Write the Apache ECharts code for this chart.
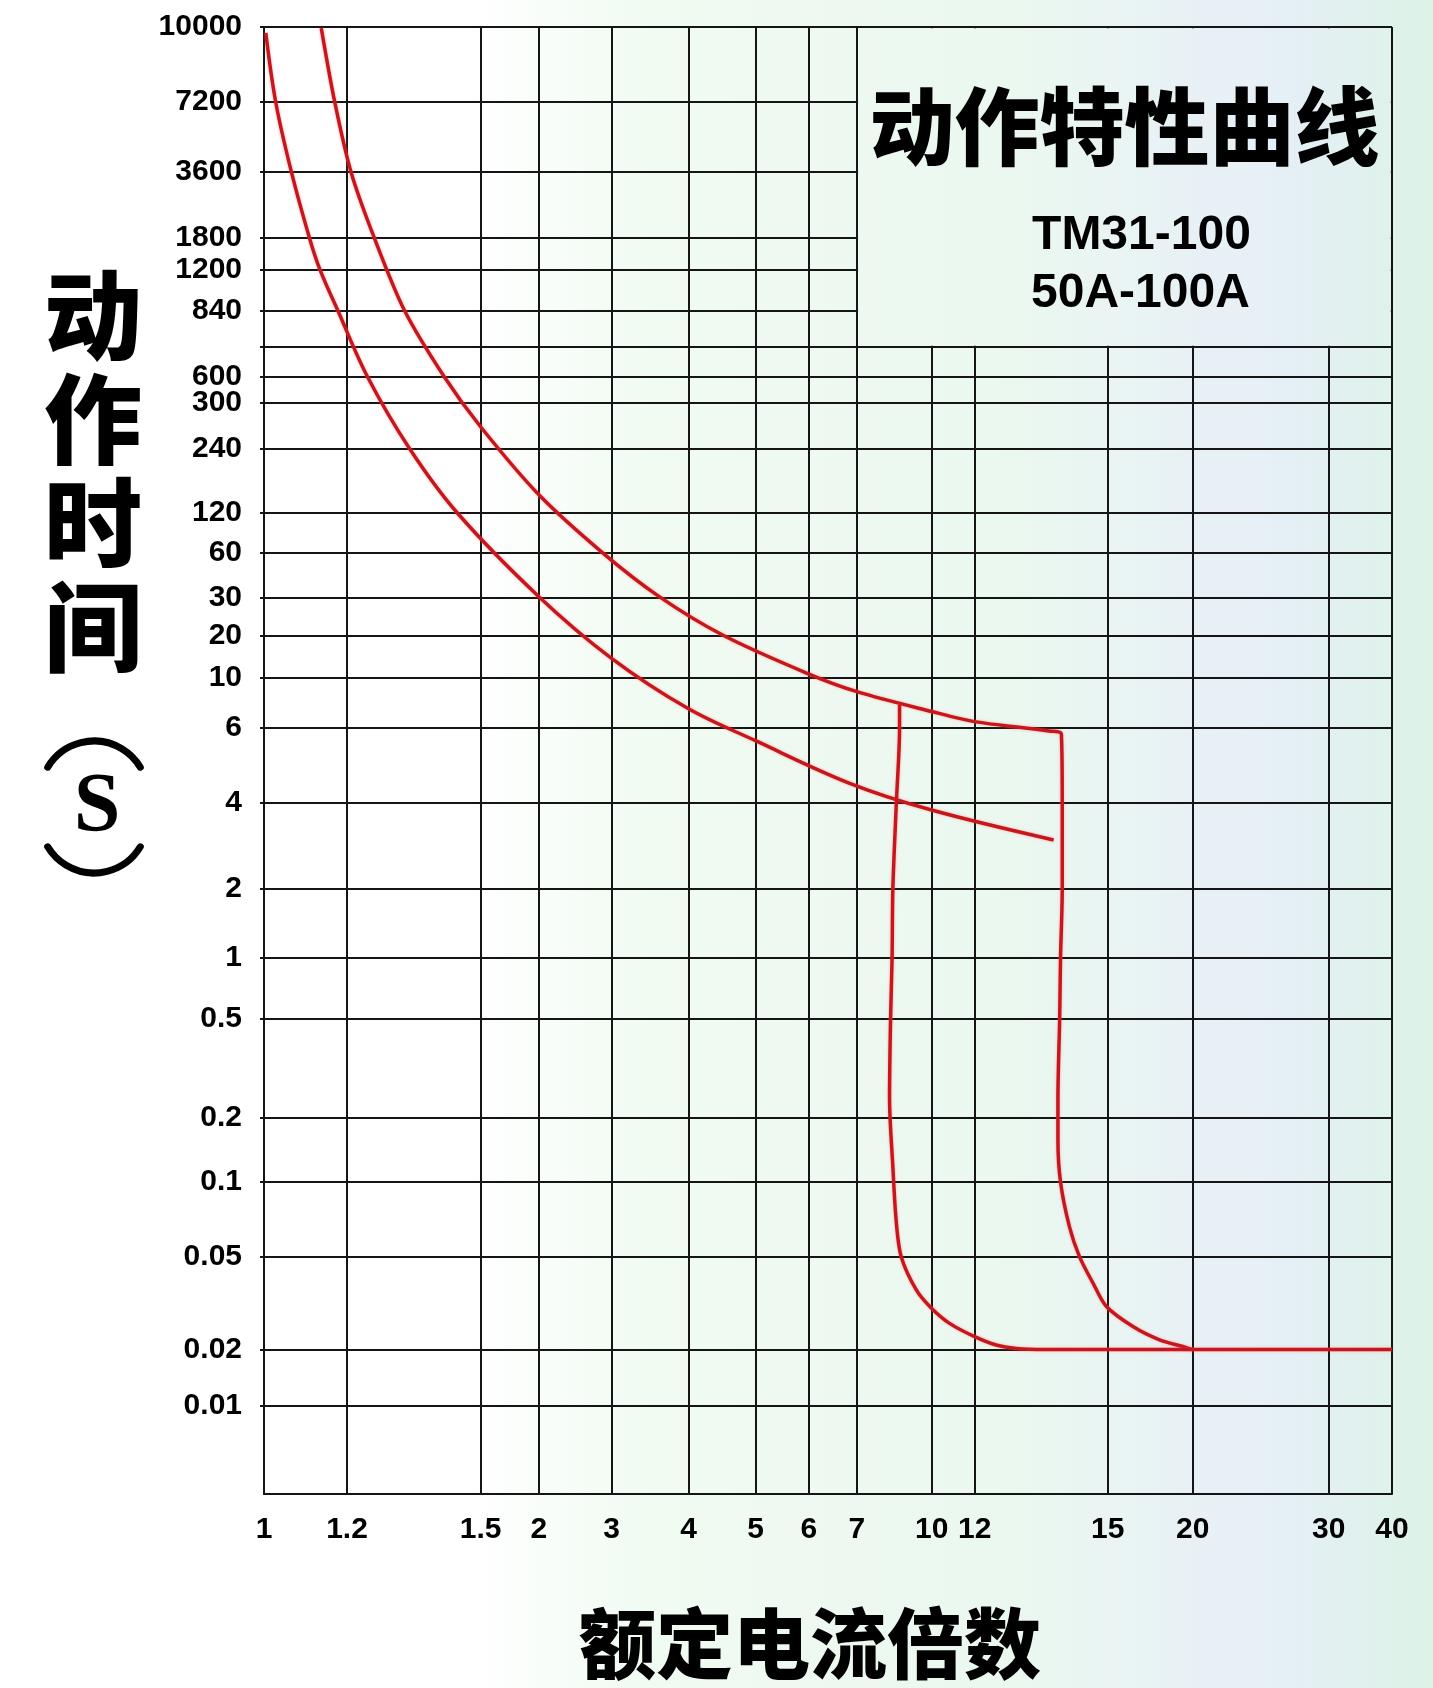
<!DOCTYPE html>
<html><head><meta charset="utf-8">
<script src="https://cdn.jsdelivr.net/npm/echarts@6/dist/echarts.min.js"></script>
<style>html,body{margin:0;padding:0;background:#fff}#chart{width:1433px;height:1688px}</style>
</head><body><div id="chart"></div>
<script>
// ---- tick labels ----
const xTickValues = [1, 1.2, 1.5, 2, 3, 4, 5, 6, 7, 10, 12, 15, 20, 30, 40];
const yTickValues = [10000, 7200, 3600, 1800, 1200, 840, 600, 300, 240, 120, 60, 30, 20, 10, 6, 4, 2, 1, 0.5, 0.2, 0.1, 0.05, 0.02, 0.01];
const yExtraGrid = [700];

// ---- series values: [multiple of rated current, time in s] ----
const curveLower = [[1.004,9740],[1.026,7200],[1.062,3600],[1.105,1800],[1.131,1200],[1.176,840],[1.242,600],[1.332,240],[1.443,120],[2,30.6],[3,13.8],[4,7.3],[5,5.6],[6.84,4.45],[10,3.78],[13.7,2.97]];
const curveUpper = [[1.134,9950],[1.168,7200],[1.208,3600],[1.256,1800],[1.321,840],[1.412,600],[1.5,267],[2,146],[2.86,60],[3.59,30.5],[4.48,20.1],[5.95,10.85],[7,8.7],[10,7.1],[12,6.4],[13.6,5.9],[13.88,5.8],[13.9,4],[13.9,2],[13.86,1],[13.84,0.5],[13.8,0.24],[13.8,0.158],[13.86,0.1],[14.07,0.066],[14.31,0.05],[14.64,0.0385],[14.97,0.0306],[16.34,0.0251],[17.88,0.022],[19.35,0.0206],[20,0.02],[40,0.02]];
const instantTrip = [[8.58,7.6],[8.58,6],[8.45,4],[8.31,2],[8.28,1],[8.22,0.5],[8.18,0.24],[8.31,0.118],[8.45,0.0685],[8.65,0.05],[9.3,0.036],[9.99,0.0301],[10.79,0.0259],[12,0.0227],[12.44,0.0209],[12.87,0.0202],[13.5,0.02],[20,0.02]];

// ---- axis scale definitions (irregular printed scale: value -> axis unit 0..100) ----
const xScaleStops = [[1,0],[1.2,7.36],[1.5,19.20],[2,24.37],[3,30.81],[4,37.64],[5,43.58],[6,48.31],[7,52.56],[10,59.19],[12,63.00],[15,74.79],[20,82.33],[30,94.39],[40,100]];
const yScaleStops = [[0.01,6.00],[0.02,9.85],[0.05,16.16],[0.1,21.27],[0.2,25.63],[0.5,32.38],[1,36.54],[2,41.24],[4,47.10],[6,52.22],[10,55.62],[20,58.52],[30,61.08],[60,64.14],[120,66.87],[240,71.27],[300,74.37],[600,76.14],[700,78.19],[840,80.67],[1200,83.44],[1800,85.62],[3600,90.12],[7200,94.89],[10000,100]];

function scaleMap(stops, v) {
  let i = 0;
  while (i < stops.length - 2 && v > stops[i + 1][0]) i++;
  const v0 = stops[i][0], u0 = stops[i][1], v1 = stops[i + 1][0], u1 = stops[i + 1][1];
  const t = Math.log(v / v0) / Math.log(v1 / v0);
  return u0 + t * (u1 - u0);
}
const fx = v => scaleMap(xScaleStops, v);
const fy = v => scaleMap(yScaleStops, v);
const toUnits = arr => arr.map(p => [fx(p[0]), fy(p[1])]);

function nearestLabel(ticks, f, val) {
  let best = null, bd = Infinity;
  ticks.forEach(t => { const d = Math.abs(f(t) - val); if (d < bd) { bd = d; best = t; } });
  return bd < 0.05 ? String(best) : '';
}

const bgStops = [
  { offset: 0, color: '#ffffff' }, { offset: 0.33, color: '#ffffff' },
  { offset: 0.45, color: '#f0fbf2' }, { offset: 0.7, color: '#ebf8ef' },
  { offset: 0.82, color: '#e8f2f5' }, { offset: 0.9, color: '#e5eff6' },
  { offset: 1, color: '#dcf3e6' }
];
const W = 1433, H = 1688;
const gridColor = '#151515';
const red = '#c8161d';
const redLine = { color: red, width: 3.5, shadowColor: 'rgba(255,90,90,0.45)', shadowBlur: 3 };
const labelFont = { fontSize: 30, fontWeight: 'bold', fontFamily: '"Liberation Sans", Arial, sans-serif', color: '#000' };

const chart = echarts.init(document.getElementById('chart'), null, { renderer: 'canvas' });
const xGrid = xTickValues.map(fx);
const yGrid = yTickValues.concat(yExtraGrid).map(fy);
const yLab = yTickValues.map(fy);

const option = {
  animation: false,
  grid: { left: 264, right: 41, top: 27, bottom: 194, containLabel: false },
  xAxis: {
    type: 'value', min: 0, max: 100,
    axisLine: { show: true, onZero: false, lineStyle: { color: gridColor, width: 2 } },
    axisTick: { show: false, customValues: xGrid },
    axisLabel: Object.assign({ customValues: xGrid, margin: 21, formatter: v => nearestLabel(xTickValues, fx, v) }, labelFont),
    splitLine: { show: true, lineStyle: { color: gridColor, width: 2 } }
  },
  yAxis: {
    type: 'value', min: 0, max: 100,
    axisLine: { show: true, onZero: false, lineStyle: { color: gridColor, width: 2 } },
    axisTick: { show: true, length: 4, customValues: yGrid, lineStyle: { color: gridColor, width: 2 } },
    axisLabel: Object.assign({ customValues: yLab, margin: 22, formatter: v => nearestLabel(yTickValues, fy, v) }, labelFont),
    splitLine: { show: true, lineStyle: { color: gridColor, width: 2 } }
  },
  series: [
    { type: 'line', name: 'lower', data: toUnits(curveLower), showSymbol: false, smooth: 0.35, lineStyle: redLine, silent: true },
    { type: 'line', name: 'upper', data: toUnits(curveUpper), showSymbol: false, smooth: 0.3, lineStyle: redLine, silent: true },
    { type: 'line', name: 'instant', data: toUnits(instantTrip), showSymbol: false, smooth: 0.3, lineStyle: redLine, silent: true }
  ],
  graphic: [
    { type: 'rect', z: -10, shape: { x: 0, y: 0, width: W, height: H },
      style: { fill: { type: 'linear', x: 0, y: 0, x2: W, y2: 0, global: true, colorStops: bgStops } } }
  ]
};
chart.setOption(option);

// title box bounded by the "7" line and the unlabeled line above 600
const pTL = chart.convertToPixel({ gridIndex: 0 }, [fx(7), 100]);
const pBR = chart.convertToPixel({ gridIndex: 0 }, [100, fy(700)]);
const bx = pTL[0] + 1.2, by = pTL[1] + 1.2, bw = pBR[0] - 1.2 - bx, bh = pBR[1] - 1.2 - by;
const bcx = bx + bw / 2;
const cjk = '"Noto Sans CJK SC", sans-serif';

chart.setOption({
  graphic: [
    { type: 'rect', z: -10, shape: { x: 0, y: 0, width: W, height: H },
      style: { fill: { type: 'linear', x: 0, y: 0, x2: W, y2: 0, global: true, colorStops: bgStops } } },
    { type: 'rect', z: 10, shape: { x: bx, y: by, width: bw, height: bh },
      style: { fill: { type: 'linear', x: 0, y: 0, x2: W, y2: 0, global: true, colorStops: bgStops } } },
    { type: 'text', z: 11, x: bcx, y: 127, style: { text: '动作特性曲线', font: '900 85px ' + cjk, fill: '#000', textAlign: 'center', textVerticalAlign: 'middle' } },
    { type: 'text', z: 11, x: bcx + 17, y: 236, style: { text: 'TM31-100', font: 'bold 48px "Liberation Sans", Arial, sans-serif', fill: '#000', textAlign: 'center', textVerticalAlign: 'middle' } },
    { type: 'text', z: 11, x: bcx + 16, y: 294, style: { text: '50A-100A', font: 'bold 48px "Liberation Sans", Arial, sans-serif', fill: '#000', textAlign: 'center', textVerticalAlign: 'middle' } },
    // y axis name (vertical)
    { type: 'text', z: 11, x: 93, y: 263, style: { text: '动\n作\n时\n间', font: '900 98px ' + cjk, lineHeight: 104, fill: '#000', textAlign: 'center', textVerticalAlign: 'top' } },
    { type: 'arc', z: 11, shape: { cx: 94, cy: 795, r: 54, startAngle: Math.PI * 211 / 180, endAngle: Math.PI * 329 / 180, clockwise: true },
      style: { stroke: '#000', lineWidth: 7, fill: null, lineCap: 'round' } },
    { type: 'text', z: 11, x: 97, y: 809, style: { text: 'S', font: 'bold 84px "Liberation Serif", "DejaVu Serif", serif', fill: '#000', textAlign: 'center', textVerticalAlign: 'middle' } },
    { type: 'arc', z: 11, shape: { cx: 94, cy: 819, r: 54, startAngle: Math.PI * 31 / 180, endAngle: Math.PI * 149 / 180, clockwise: true },
      style: { stroke: '#000', lineWidth: 7, fill: null, lineCap: 'round' } },
    // x axis name
    { type: 'text', z: 11, x: 810, y: 1644, style: { text: '额定电流倍数', font: '900 77px ' + cjk, fill: '#000', textAlign: 'center', textVerticalAlign: 'middle' } }
  ]
});
</script>
</body></html>
